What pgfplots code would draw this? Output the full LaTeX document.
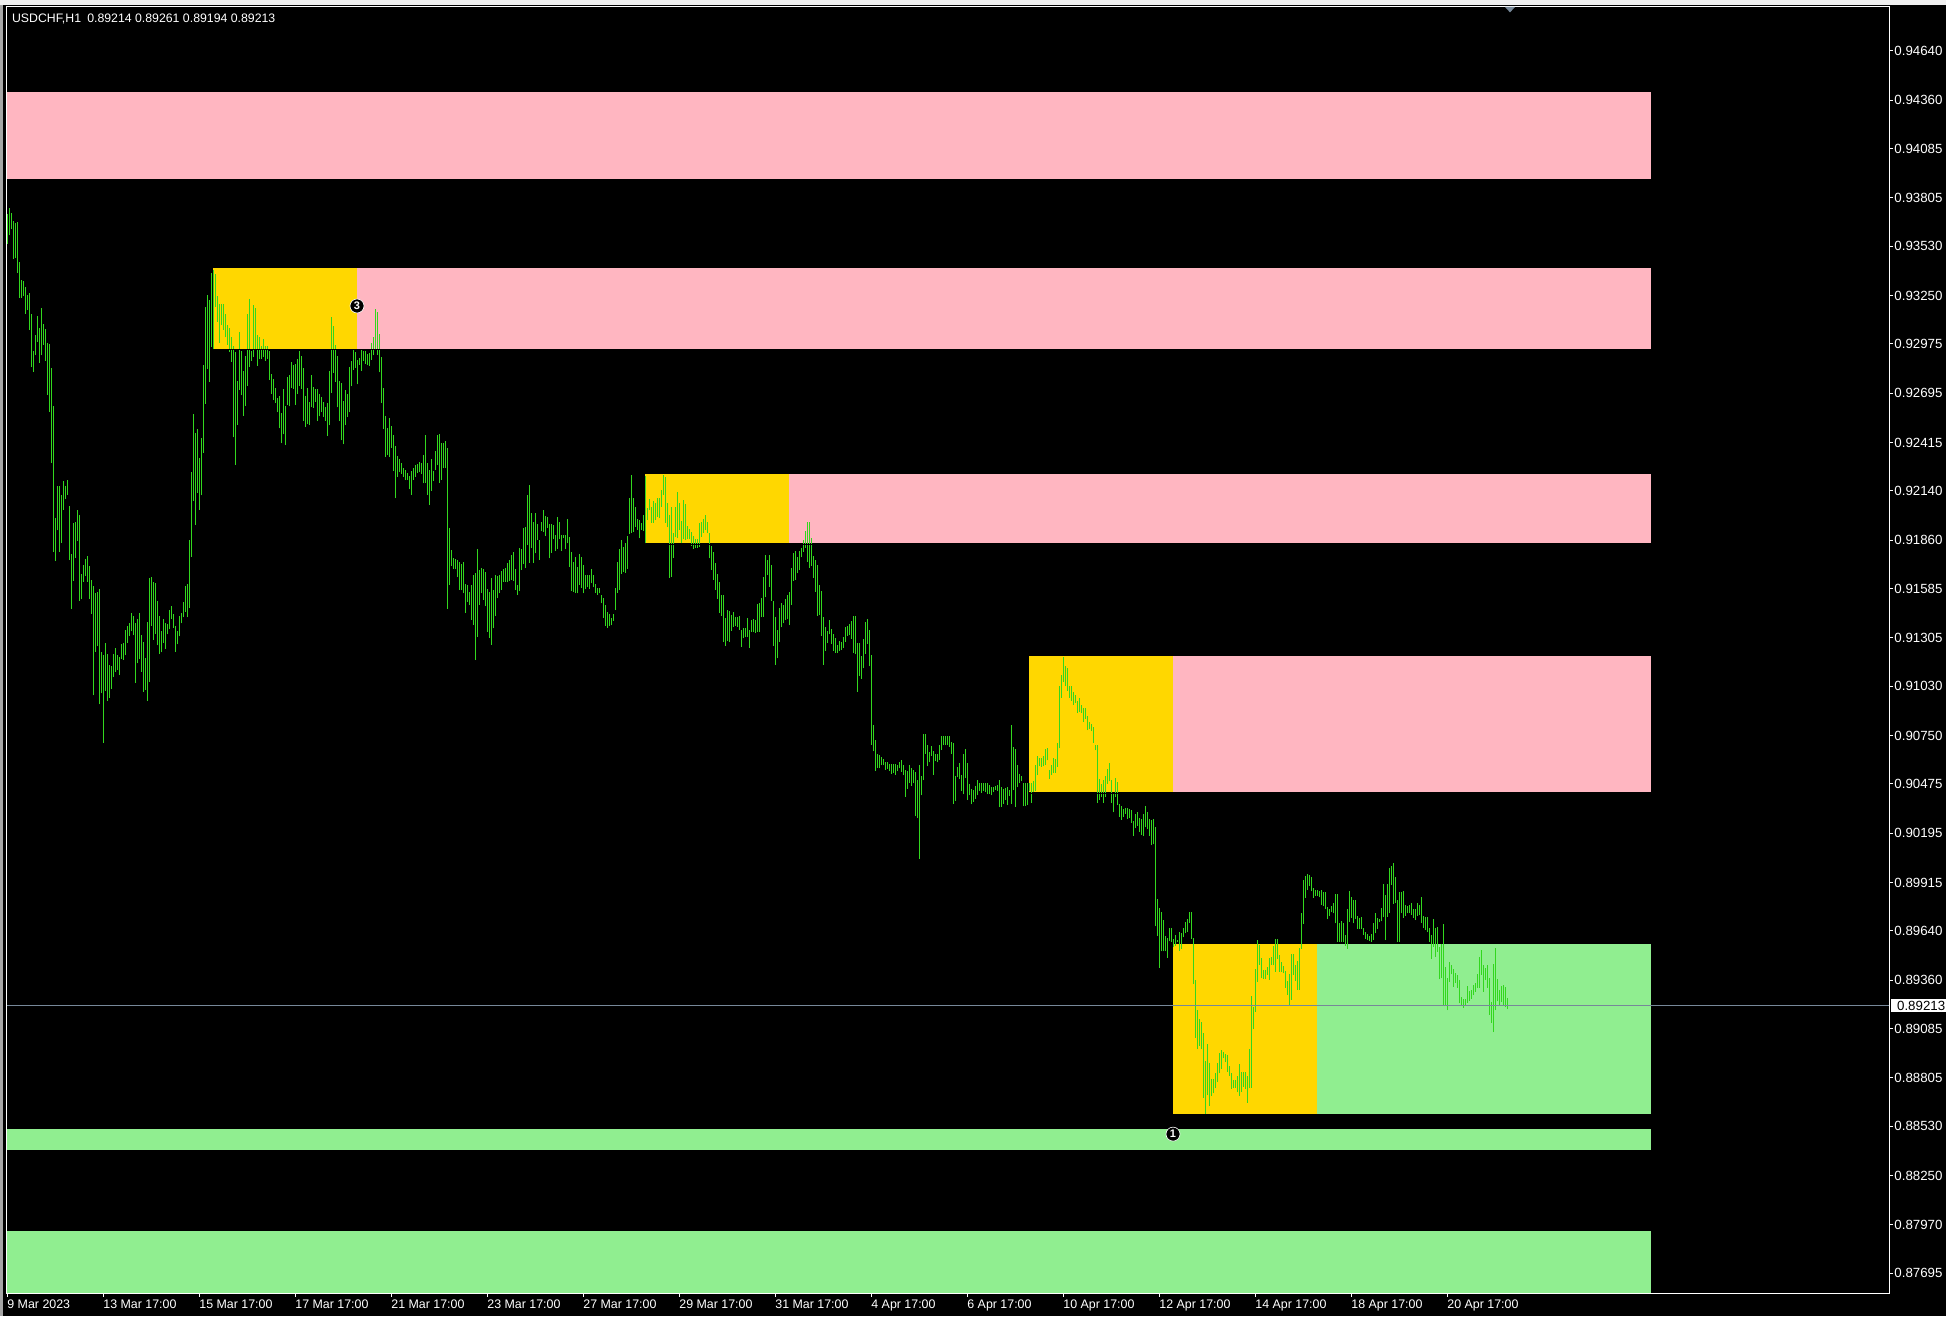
\documentclass[border=0pt]{standalone}
\usepackage{pgfplots}
\pgfplotsset{compat=1.18}
\usepackage{pgfplotstable}
\usepackage{fontspec}
\setmainfont{Liberation Sans}
\definecolor{barg}{RGB}{50,215,30}
\definecolor{pinkz}{RGB}{255,182,193}
\definecolor{goldz}{RGB}{255,215,0}
\definecolor{greenz}{RGB}{144,238,144}
\definecolor{cpline}{RGB}{119,136,153}
\pgfplotstableread{
k lo hi
0 0.93544 0.93716
1 0.93592 0.93747
2 0.93627 0.93722
3 0.93457 0.93674
4 0.93464 0.93664
5 0.93381 0.93668
6 0.93238 0.93441
7 0.93238 0.93338
8 0.93247 0.93334
9 0.93148 0.93296
10 0.93168 0.93251
11 0.93055 0.93263
12 0.92844 0.93148
13 0.92817 0.92937
14 0.92910 0.93024
15 0.92986 0.93133
16 0.92869 0.93065
17 0.92910 0.93177
18 0.92972 0.93086
19 0.92879 0.93059
20 0.92687 0.92982
21 0.92590 0.92974
22 0.92301 0.92838
23 0.91794 0.92621
24 0.91743 0.91987
25 0.91916 0.92166
26 0.91794 0.92166
27 0.91846 0.92119
28 0.92032 0.92197
29 0.92094 0.92166
30 0.92119 0.92201
31 0.91747 0.92053
32 0.91468 0.91784
33 0.91629 0.91960
34 0.91759 0.91966
35 0.91856 0.92032
36 0.91515 0.92003
37 0.91524 0.91670
38 0.91623 0.91718
39 0.91656 0.91755
40 0.91623 0.91770
41 0.91526 0.91714
42 0.91443 0.91635
43 0.90978 0.91598
44 0.91226 0.91561
45 0.91257 0.91565
46 0.90927 0.91582
47 0.90989 0.91222
48 0.90710 0.91206
49 0.91003 0.91276
50 0.90947 0.91214
51 0.90966 0.91152
52 0.91013 0.91144
53 0.91082 0.91214
54 0.91111 0.91247
55 0.91123 0.91210
56 0.91096 0.91199
57 0.91185 0.91268
58 0.91181 0.91278
59 0.91206 0.91350
60 0.91278 0.91375
61 0.91317 0.91391
62 0.91342 0.91449
63 0.91319 0.91429
64 0.91051 0.91391
65 0.91160 0.91412
66 0.91185 0.91445
67 0.91113 0.91319
68 0.90999 0.91282
69 0.91009 0.91191
70 0.90947 0.91396
71 0.91057 0.91643
72 0.91371 0.91650
73 0.91294 0.91625
74 0.91325 0.91617
75 0.91263 0.91513
76 0.91216 0.91429
77 0.91222 0.91346
78 0.91278 0.91412
79 0.91243 0.91391
80 0.91325 0.91385
81 0.91354 0.91466
82 0.91412 0.91487
83 0.91360 0.91443
84 0.91226 0.91375
85 0.91268 0.91346
86 0.91313 0.91429
87 0.91387 0.91449
88 0.91422 0.91509
89 0.91453 0.91602
90 0.91422 0.91613
91 0.91474 0.91860
92 0.91767 0.92245
93 0.92084 0.92575
94 0.91945 0.92472
95 0.92129 0.92493
96 0.92032 0.92327
97 0.92115 0.92439
98 0.92358 0.92856
99 0.92635 0.93185
100 0.92834 0.93251
101 0.92761 0.93224
102 0.92958 0.93379
103 0.92941 0.93395
104 0.93185 0.93375
105 0.93100 0.93245
106 0.92982 0.93203
107 0.93081 0.93203
108 0.93055 0.93203
109 0.93013 0.93146
110 0.92972 0.93081
111 0.92929 0.93065
112 0.92873 0.93017
113 0.92445 0.92962
114 0.92290 0.92931
115 0.92517 0.92765
116 0.92714 0.93044
117 0.92683 0.92935
118 0.92567 0.92821
119 0.92625 0.92904
120 0.92739 0.93146
121 0.92846 0.93230
122 0.92879 0.92935
123 0.92900 0.93199
124 0.92941 0.93179
125 0.92852 0.93024
126 0.92889 0.93017
127 0.92889 0.92962
128 0.92900 0.93003
129 0.92879 0.92962
130 0.92889 0.92962
131 0.92772 0.92935
132 0.92693 0.92803
133 0.92656 0.92776
134 0.92641 0.92724
135 0.92586 0.92670
136 0.92495 0.92679
137 0.92410 0.92584
138 0.92462 0.92720
139 0.92400 0.92623
140 0.92631 0.92788
141 0.92621 0.92800
142 0.92724 0.92873
143 0.92718 0.92854
144 0.92631 0.92860
145 0.92693 0.92889
146 0.92739 0.92935
147 0.92718 0.92906
148 0.92538 0.92838
149 0.92503 0.92677
150 0.92520 0.92724
151 0.92517 0.92646
152 0.92615 0.92796
153 0.92610 0.92728
154 0.92646 0.92718
155 0.92540 0.92720
156 0.92563 0.92689
157 0.92586 0.92672
158 0.92559 0.92646
159 0.92538 0.92615
160 0.92451 0.92637
161 0.92513 0.92823
162 0.92697 0.93131
163 0.92811 0.93075
164 0.92759 0.92972
165 0.92615 0.92906
166 0.92538 0.92765
167 0.92427 0.92755
168 0.92404 0.92652
169 0.92513 0.92714
170 0.92559 0.92693
171 0.92586 0.92844
172 0.92734 0.92879
173 0.92827 0.92941
174 0.92838 0.92927
175 0.92745 0.92883
176 0.92858 0.92896
177 0.92823 0.92941
178 0.92879 0.92935
179 0.92862 0.92935
180 0.92854 0.92916
181 0.92852 0.92924
182 0.92885 0.92978
183 0.92910 0.93013
184 0.92949 0.93172
185 0.92914 0.93158
186 0.92813 0.93030
187 0.92641 0.92900
188 0.92491 0.92724
189 0.92334 0.92565
190 0.92342 0.92497
191 0.92332 0.92553
192 0.92383 0.92511
193 0.92253 0.92455
194 0.92098 0.92393
195 0.92218 0.92336
196 0.92249 0.92321
197 0.92236 0.92297
198 0.92221 0.92272
199 0.92202 0.92259
200 0.92202 0.92244
201 0.92149 0.92227
202 0.92117 0.92255
203 0.92202 0.92268
204 0.92221 0.92287
205 0.92244 0.92295
206 0.92248 0.92304
207 0.92236 0.92301
208 0.92183 0.92344
209 0.92187 0.92458
210 0.92117 0.92297
211 0.92060 0.92259
212 0.92142 0.92320
213 0.92198 0.92255
214 0.92259 0.92367
215 0.92287 0.92458
216 0.92187 0.92462
217 0.92202 0.92414
218 0.92268 0.92410
219 0.92268 0.92424
220 0.91471 0.92384
221 0.91606 0.91929
222 0.91715 0.91804
223 0.91695 0.91757
224 0.91695 0.91755
225 0.91653 0.91748
226 0.91577 0.91738
227 0.91575 0.91725
228 0.91558 0.91734
229 0.91448 0.91611
230 0.91511 0.91606
231 0.91492 0.91568
232 0.91407 0.91606
233 0.91378 0.91662
234 0.91179 0.91676
235 0.91312 0.91810
236 0.91492 0.91691
237 0.91558 0.91702
238 0.91520 0.91696
239 0.91486 0.91681
240 0.91340 0.91583
241 0.91306 0.91568
242 0.91265 0.91647
243 0.91359 0.91577
244 0.91429 0.91662
245 0.91530 0.91657
246 0.91558 0.91662
247 0.91577 0.91685
248 0.91624 0.91696
249 0.91624 0.91702
250 0.91621 0.91729
251 0.91630 0.91748
252 0.91634 0.91776
253 0.91630 0.91793
254 0.91577 0.91696
255 0.91549 0.91606
256 0.91573 0.91814
257 0.91691 0.91808
258 0.91725 0.91929
259 0.91700 0.91937
260 0.91833 0.92115
261 0.91732 0.92174
262 0.91814 0.92013
263 0.91732 0.91965
264 0.91785 0.92017
265 0.91861 0.91952
266 0.91748 0.91861
267 0.91912 0.91963
268 0.91909 0.92032
269 0.91884 0.91998
270 0.91928 0.91994
271 0.91757 0.91952
272 0.91789 0.91952
273 0.91865 0.91946
274 0.91799 0.91890
275 0.91808 0.91994
276 0.91869 0.91965
277 0.91801 0.91890
278 0.91871 0.91890
279 0.91808 0.91890
280 0.91842 0.91979
281 0.91710 0.91876
282 0.91571 0.91791
283 0.91568 0.91738
284 0.91558 0.91763
285 0.91558 0.91710
286 0.91606 0.91782
287 0.91587 0.91763
288 0.91558 0.91719
289 0.91581 0.91662
290 0.91592 0.91662
291 0.91585 0.91662
292 0.91615 0.91695
293 0.91592 0.91662
294 0.91562 0.91611
295 0.91549 0.91590
296 0.91558 0.91590
297 0.91501 0.91549
298 0.91420 0.91530
299 0.91373 0.91490
300 0.91363 0.91452
301 0.91373 0.91439
302 0.91376 0.91416
303 0.91403 0.91441
304 0.91463 0.91587
305 0.91562 0.91738
306 0.91577 0.91808
307 0.91668 0.91861
308 0.91681 0.91823
309 0.91676 0.91846
310 0.91695 0.91884
311 0.91895 0.92098
312 0.91903 0.92229
313 0.91909 0.92098
314 0.91937 0.92047
315 0.91918 0.91979
316 0.91871 0.91975
317 0.91918 0.91956
318 0.91914 0.92003
319 0.91842 0.92225
320 0.91975 0.92041
321 0.92032 0.92092
322 0.91960 0.92051
323 0.91960 0.92085
324 0.91975 0.92073
325 0.91994 0.92102
326 0.91984 0.92098
327 0.92051 0.92145
328 0.92117 0.92229
329 0.91960 0.92219
330 0.91933 0.92070
331 0.91647 0.92005
332 0.91653 0.92051
333 0.91761 0.91899
334 0.91876 0.92047
335 0.91871 0.92132
336 0.91918 0.92070
337 0.91842 0.91971
338 0.91865 0.92089
339 0.91861 0.92064
340 0.91865 0.91941
341 0.91865 0.91922
342 0.91827 0.91909
343 0.91810 0.91886
344 0.91814 0.91867
345 0.91818 0.91867
346 0.91820 0.91956
347 0.91880 0.91965
348 0.91903 0.91982
349 0.91918 0.92005
350 0.91899 0.91963
351 0.91757 0.91899
352 0.91691 0.91827
353 0.91634 0.91795
354 0.91577 0.91729
355 0.91526 0.91668
356 0.91448 0.91624
357 0.91429 0.91549
358 0.91284 0.91549
359 0.91259 0.91416
360 0.91289 0.91463
361 0.91284 0.91460
362 0.91346 0.91435
363 0.91369 0.91454
364 0.91373 0.91426
365 0.91369 0.91426
366 0.91350 0.91429
367 0.91255 0.91350
368 0.91302 0.91359
369 0.91312 0.91363
370 0.91312 0.91416
371 0.91246 0.91350
372 0.91340 0.91407
373 0.91340 0.91410
374 0.91335 0.91407
375 0.91340 0.91498
376 0.91340 0.91505
377 0.91422 0.91530
378 0.91426 0.91653
379 0.91535 0.91776
380 0.91662 0.91748
381 0.91596 0.91776
382 0.91517 0.91719
383 0.91261 0.91517
384 0.91151 0.91426
385 0.91189 0.91350
386 0.91284 0.91473
387 0.91365 0.91501
388 0.91388 0.91492
389 0.91407 0.91526
390 0.91410 0.91549
391 0.91378 0.91568
392 0.91492 0.91700
393 0.91630 0.91785
394 0.91634 0.91799
395 0.91672 0.91767
396 0.91691 0.91799
397 0.91762 0.91818
398 0.91794 0.91862
399 0.91818 0.91915
400 0.91738 0.91964
401 0.91704 0.91964
402 0.91714 0.91872
403 0.91648 0.91770
404 0.91568 0.91745
405 0.91430 0.91721
406 0.91437 0.91605
407 0.91316 0.91571
408 0.91151 0.91425
409 0.91233 0.91369
410 0.91277 0.91345
411 0.91325 0.91406
412 0.91272 0.91357
413 0.91231 0.91325
414 0.91218 0.91303
415 0.91218 0.91267
416 0.91231 0.91287
417 0.91236 0.91284
418 0.91248 0.91311
419 0.91284 0.91369
420 0.91316 0.91374
421 0.91320 0.91386
422 0.91301 0.91401
423 0.91218 0.91430
424 0.91211 0.91430
425 0.90999 0.91277
426 0.91090 0.91277
427 0.91073 0.91204
428 0.91131 0.91296
429 0.91216 0.91393
430 0.91272 0.91413
431 0.91143 0.91350
432 0.90699 0.91209
433 0.90660 0.90811
434 0.90551 0.90726
435 0.90568 0.90645
436 0.90563 0.90641
437 0.90580 0.90628
438 0.90580 0.90616
439 0.90556 0.90597
440 0.90561 0.90597
441 0.90548 0.90587
442 0.90531 0.90587
443 0.90539 0.90587
444 0.90527 0.90587
445 0.90548 0.90580
446 0.90563 0.90599
447 0.90543 0.90609
448 0.90524 0.90585
449 0.90403 0.90553
450 0.90446 0.90548
451 0.90483 0.90585
452 0.90463 0.90563
453 0.90478 0.90556
454 0.90290 0.90544
455 0.90281 0.90495
456 0.90051 0.90581
457 0.90410 0.90519
458 0.90495 0.90760
459 0.90646 0.90760
460 0.90575 0.90696
461 0.90597 0.90658
462 0.90636 0.90692
463 0.90527 0.90660
464 0.90604 0.90646
465 0.90597 0.90643
466 0.90611 0.90696
467 0.90670 0.90745
468 0.90694 0.90750
469 0.90694 0.90750
470 0.90694 0.90750
471 0.90684 0.90750
472 0.90646 0.90713
473 0.90361 0.90709
474 0.90378 0.90519
475 0.90512 0.90573
476 0.90502 0.90592
477 0.90434 0.90524
478 0.90415 0.90643
479 0.90507 0.90675
480 0.90386 0.90595
481 0.90410 0.90476
482 0.90359 0.90446
483 0.90374 0.90439
484 0.90391 0.90466
485 0.90410 0.90495
486 0.90434 0.90483
487 0.90422 0.90483
488 0.90434 0.90478
489 0.90427 0.90483
490 0.90415 0.90483
491 0.90417 0.90471
492 0.90410 0.90456
493 0.90427 0.90459
494 0.90442 0.90466
495 0.90434 0.90471
496 0.90342 0.90495
497 0.90344 0.90459
498 0.90361 0.90446
499 0.90386 0.90454
500 0.90354 0.90459
501 0.90405 0.90442
502 0.90361 0.90811
503 0.90439 0.90682
504 0.90344 0.90675
505 0.90456 0.90585
506 0.90480 0.90529
507 0.90490 0.90519
508 0.90349 0.90478
509 0.90349 0.90478
510 0.90354 0.90483
511 0.90434 0.90483
512 0.90366 0.90483
513 0.90427 0.90490
514 0.90434 0.90580
515 0.90524 0.90633
516 0.90575 0.90624
517 0.90573 0.90624
518 0.90575 0.90636
519 0.90582 0.90672
520 0.90609 0.90677
521 0.90502 0.90556
522 0.90524 0.90580
523 0.90536 0.90624
524 0.90539 0.90616
525 0.90573 0.90709
526 0.90677 0.91034
527 0.90964 0.91095
528 0.91053 0.91199
529 0.91029 0.91143
530 0.91005 0.91136
531 0.90964 0.91034
532 0.90949 0.91029
533 0.90925 0.90998
534 0.90937 0.90981
535 0.90876 0.90944
536 0.90883 0.90961
537 0.90879 0.90925
538 0.90828 0.90908
539 0.90845 0.90908
540 0.90781 0.90859
541 0.90786 0.90828
542 0.90774 0.90815
543 0.90709 0.90796
544 0.90665 0.90697
545 0.90366 0.90694
546 0.90386 0.90502
547 0.90398 0.90476
548 0.90369 0.90495
549 0.90398 0.90519
550 0.90476 0.90561
551 0.90490 0.90592
552 0.90366 0.90495
553 0.90313 0.90422
554 0.90398 0.90507
555 0.90354 0.90488
556 0.90289 0.90361
557 0.90272 0.90349
558 0.90289 0.90332
559 0.90306 0.90337
560 0.90276 0.90337
561 0.90284 0.90330
562 0.90252 0.90325
563 0.90179 0.90264
564 0.90223 0.90306
565 0.90235 0.90313
566 0.90203 0.90281
567 0.90184 0.90276
568 0.90179 0.90306
569 0.90228 0.90349
570 0.90216 0.90313
571 0.90179 0.90276
572 0.90126 0.90269
573 0.90131 0.90276
574 0.89665 0.90233
575 0.89613 0.89822
576 0.89431 0.89771
577 0.89524 0.89747
578 0.89524 0.89701
579 0.89524 0.89609
580 0.89487 0.89601
581 0.89580 0.89657
582 0.89577 0.89657
583 0.89546 0.89594
584 0.89554 0.89614
585 0.89576 0.89588
586 0.89527 0.89631
587 0.89539 0.89628
588 0.89603 0.89654
589 0.89626 0.89688
590 0.89633 0.89707
591 0.89686 0.89745
592 0.89595 0.89745
593 0.89338 0.89597
594 0.89033 0.89361
595 0.88967 0.89190
596 0.88986 0.89137
597 0.88967 0.89122
598 0.88692 0.89057
599 0.88599 0.88900
600 0.88705 0.88997
601 0.88646 0.88887
602 0.88701 0.88796
603 0.88717 0.88798
604 0.88745 0.88830
605 0.88781 0.88889
606 0.88830 0.88944
607 0.88855 0.88963
608 0.88915 0.88953
609 0.88893 0.88940
610 0.88838 0.88932
611 0.88817 0.88872
612 0.88741 0.88832
613 0.88745 0.88794
614 0.88747 0.88790
615 0.88722 0.88815
616 0.88703 0.88883
617 0.88724 0.88836
618 0.88754 0.88838
619 0.88741 0.88836
620 0.88663 0.88815
621 0.88745 0.88968
622 0.88749 0.89270
623 0.89082 0.89209
624 0.89179 0.89423
625 0.89351 0.89588
626 0.89446 0.89561
627 0.89372 0.89486
628 0.89368 0.89417
629 0.89366 0.89417
630 0.89391 0.89436
631 0.89361 0.89486
632 0.89446 0.89491
633 0.89444 0.89554
634 0.89408 0.89592
635 0.89482 0.89594
636 0.89408 0.89503
637 0.89408 0.89463
638 0.89398 0.89442
639 0.89317 0.89412
640 0.89275 0.89357
641 0.89213 0.89393
642 0.89249 0.89506
643 0.89391 0.89508
644 0.89355 0.89446
645 0.89304 0.89470
646 0.89306 0.89544
647 0.89539 0.89741
648 0.89679 0.89929
649 0.89828 0.89951
650 0.89872 0.89963
651 0.89895 0.89957
652 0.89864 0.89946
653 0.89828 0.89885
654 0.89840 0.89872
655 0.89840 0.89872
656 0.89830 0.89868
657 0.89787 0.89872
658 0.89781 0.89859
659 0.89764 0.89862
660 0.89705 0.89777
661 0.89726 0.89764
662 0.89745 0.89783
663 0.89739 0.89796
664 0.89683 0.89849
665 0.89578 0.89849
666 0.89578 0.89683
667 0.89578 0.89696
668 0.89578 0.89684
669 0.89554 0.89614
670 0.89539 0.89764
671 0.89692 0.89866
672 0.89715 0.89830
673 0.89683 0.89815
674 0.89707 0.89815
675 0.89650 0.89724
676 0.89650 0.89711
677 0.89650 0.89720
678 0.89616 0.89656
679 0.89595 0.89631
680 0.89588 0.89622
681 0.89582 0.89611
682 0.89576 0.89622
683 0.89588 0.89683
684 0.89626 0.89739
685 0.89648 0.89713
686 0.89688 0.89709
687 0.89694 0.89768
688 0.89717 0.89908
689 0.89588 0.89843
690 0.89720 0.89906
691 0.89739 0.89995
692 0.89900 0.90008
693 0.89792 0.90027
694 0.89796 0.89946
695 0.89576 0.89815
696 0.89576 0.89861
697 0.89739 0.89862
698 0.89715 0.89866
699 0.89724 0.89789
700 0.89739 0.89781
701 0.89743 0.89787
702 0.89730 0.89798
703 0.89715 0.89766
704 0.89701 0.89762
705 0.89724 0.89798
706 0.89728 0.89787
707 0.89686 0.89832
708 0.89656 0.89724
709 0.89645 0.89720
710 0.89631 0.89717
711 0.89578 0.89656
712 0.89482 0.89616
713 0.89550 0.89707
714 0.89493 0.89656
715 0.89521 0.89660
716 0.89364 0.89546
717 0.89370 0.89565
718 0.89218 0.89679
719 0.89220 0.89433
720 0.89190 0.89372
721 0.89351 0.89463
722 0.89393 0.89446
723 0.89323 0.89421
724 0.89345 0.89402
725 0.89317 0.89389
726 0.89228 0.89361
727 0.89218 0.89266
728 0.89203 0.89251
729 0.89213 0.89253
730 0.89232 0.89328
731 0.89243 0.89298
732 0.89255 0.89306
733 0.89275 0.89332
734 0.89294 0.89342
735 0.89317 0.89393
736 0.89317 0.89493
737 0.89389 0.89531
738 0.89294 0.89446
739 0.89361 0.89427
740 0.89317 0.89444
741 0.89162 0.89374
742 0.89118 0.89235
743 0.89065 0.89450
744 0.89190 0.89544
745 0.89239 0.89366
746 0.89217 0.89304
747 0.89237 0.89328
748 0.89213 0.89332
749 0.89205 0.89323
750 0.89194 0.89261
}\bars
\begin{document}
\begin{tikzpicture}
\fill[black] (0,0) rectangle (973pt,-658pt);
\fill[black!6] (0,0) rectangle (973pt,-2.5pt);
\fill[black!35] (0,-2.5pt) rectangle (1.5pt,-658pt);
\begin{axis}[
  at={(3pt,-3.5pt)}, anchor=north west,
  width=941.5pt, height=643pt, scale only axis,
  xmin=-0.5, xmax=941, ymin=0.87582, ymax=0.94890,
  axis on top,
  axis line style={white, line width=0.5pt},
  tick style={white, line width=0.5pt},
  tick align=outside, major tick length=1.75pt,
  xtick pos=left, ytick pos=right, yticklabel pos=right,
  xtick={0,48,96,144,192,240,288,336,384,432,480,528,576,624,672,720},
  xticklabels={9 Mar 2023,13 Mar 17:00,15 Mar 17:00,17 Mar 17:00,21 Mar 17:00,23 Mar 17:00,27 Mar 17:00,29 Mar 17:00,31 Mar 17:00,4 Apr 17:00,6 Apr 17:00,10 Apr 17:00,12 Apr 17:00,14 Apr 17:00,18 Apr 17:00,20 Apr 17:00},
  ytick={0.94640,0.94360,0.94085,0.93805,0.93530,0.93250,0.92975,0.92695,0.92415,0.92140,0.91860,0.91585,0.91305,0.91030,0.90750,0.90475,0.90195,0.89915,0.89640,0.89360,0.89085,0.88805,0.88530,0.88250,0.87970,0.87695},
  yticklabels={0.94640,0.94360,0.94085,0.93805,0.93530,0.93250,0.92975,0.92695,0.92415,0.92140,0.91860,0.91585,0.91305,0.91030,0.90750,0.90475,0.90195,0.89915,0.89640,0.89360,0.89085,0.88805,0.88530,0.88250,0.87970,0.87695},
  xticklabel style={anchor=north west, inner sep=0pt, text=white, font=\fontsize{6.2}{7}\selectfont, yshift=-1.25pt},
  yticklabel style={anchor=west, inner sep=0pt, text=white, font=\fontsize{6.65}{8}\selectfont, xshift=0.75pt},
  scaled y ticks=false,
]
% zones
\addplot[fill=pinkz, draw=none] coordinates {(-0.5,0.93913) (822,0.93913) (822,0.94407) (-0.5,0.94407)} -- cycle;
\addplot[fill=goldz, draw=none] coordinates {(103,0.92947) (175,0.92947) (175,0.93407) (103,0.93407)} -- cycle;
\addplot[fill=pinkz, draw=none] coordinates {(175,0.92947) (822,0.92947) (822,0.93407) (175,0.93407)} -- cycle;
\addplot[fill=goldz, draw=none] coordinates {(319,0.91844) (391,0.91844) (391,0.92236) (319,0.92236)} -- cycle;
\addplot[fill=pinkz, draw=none] coordinates {(391,0.91844) (822,0.91844) (822,0.92236) (391,0.92236)} -- cycle;
\addplot[fill=goldz, draw=none] coordinates {(511,0.90429) (583,0.90429) (583,0.91202) (511,0.91202)} -- cycle;
\addplot[fill=pinkz, draw=none] coordinates {(583,0.90429) (822,0.90429) (822,0.91202) (583,0.91202)} -- cycle;
\addplot[fill=goldz, draw=none] coordinates {(583,0.88599) (655,0.88599) (655,0.89565) (583,0.89565)} -- cycle;
\addplot[fill=greenz, draw=none] coordinates {(655,0.88599) (822,0.88599) (822,0.89565) (655,0.89565)} -- cycle;
\addplot[fill=greenz, draw=none] coordinates {(-0.5,0.88394) (822,0.88394) (822,0.88514) (-0.5,0.88514)} -- cycle;
\addplot[fill=greenz, draw=none] coordinates {(-0.5,0.87582) (822,0.87582) (822,0.87934) (-0.5,0.87934)} -- cycle;
% price bars (high-low)
\addplot[draw=none, mark=none,
  error bars/.cd, y dir=plus, y explicit, error mark=none,
  error bar style={draw=barg, solid, line width=0.5pt}]
  table[x=k, y=lo, y error expr=\thisrow{hi}-\thisrow{lo}] {\bars};
% zone bottom edges
\addplot[black, line width=0.5pt] coordinates {(103,0.92941) (822,0.92941)};
\addplot[black, line width=0.5pt] coordinates {(319,0.91838) (822,0.91838)};
\addplot[black, line width=0.5pt] coordinates {(511,0.90423) (822,0.90423)};
% current price line
\addplot[cpline, line width=0.5pt] coordinates {(-0.5,0.89213) (941,0.89213)};
\node[circle, fill=black, draw=white, line width=0.3pt, inner sep=0pt, minimum size=7pt, text=white, font=\fontsize{5.5}{6}\selectfont\bfseries] at (axis cs:175,0.93191) {3};
\node[circle, fill=black, draw=white, line width=0.3pt, inner sep=0pt, minimum size=7pt, text=white, font=\fontsize{5.5}{6}\selectfont\bfseries] at (axis cs:583,0.88485) {1};
\coordinate (cp) at (axis cs:941,0.89213);
\end{axis}
% chart shift marker
\fill[cpline] (752.5pt,-3.5pt) -- (757.5pt,-3.5pt) -- (755pt,-6.2pt) -- cycle;
\node[fill=white, text=black, anchor=west, inner xsep=3pt, inner ysep=0pt, minimum height=6.5pt, text width=21.65pt, font=\fontsize{6.65}{8}\selectfont] at ([xshift=0.85pt]cp) {0.89213};
\node[anchor=north west, inner sep=0pt, text=white, font=\fontsize{6.15}{7}\selectfont] at (5.85pt,-6.65pt) {USDCHF,H1\hspace{0.5em}0.89214 0.89261 0.89194 0.89213};
\pgfresetboundingbox
\useasboundingbox (0,0) rectangle (973pt,-658pt);
\end{tikzpicture}
\end{document}
